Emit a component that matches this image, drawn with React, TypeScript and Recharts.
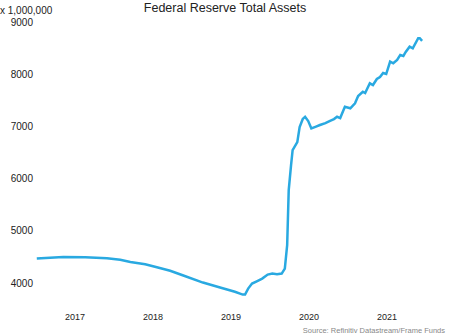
import React from 'react';
import { LineChart, Line, XAxis, YAxis } from 'recharts';

// decimal year of each reading
const years = [
  2017.01, 2017.18, 2017.35, 2017.63, 2017.91, 2018.08, 2018.21, 2018.4, 2018.55, 2018.72,
  2018.88, 2019.14, 2019.36, 2019.55, 2019.65, 2019.68, 2019.72, 2019.77, 2019.83, 2019.9,
  2019.97, 2020.03, 2020.09, 2020.15, 2020.19, 2020.22, 2020.24, 2020.27, 2020.29, 2020.35,
  2020.38, 2020.42, 2020.45, 2020.49, 2020.53, 2020.59, 2020.64, 2020.71, 2020.77, 2020.82,
  2020.86, 2020.9, 2020.96, 2021.03, 2021.09, 2021.13, 2021.19, 2021.22, 2021.28, 2021.32,
  2021.37, 2021.41, 2021.45, 2021.49, 2021.54, 2021.58, 2021.63, 2021.67, 2021.71, 2021.74,
  2021.79, 2021.83, 2021.9, 2021.92, 2021.95,
];

// total assets, x 1,000,000
const assets = [
  4469, 4485, 4500, 4494, 4475, 4446, 4404, 4360, 4302, 4235,
  4148, 4008, 3912, 3831, 3777, 3777, 3892, 3988, 4033, 4085,
  4162, 4181, 4167, 4181, 4277, 4725, 5783, 6263, 6552, 6705,
  6994, 7150, 7192, 7110, 6969, 7004, 7033, 7071, 7115, 7148,
  7192, 7167, 7385, 7354, 7450, 7590, 7673, 7648, 7834, 7802,
  7917, 7956, 8033, 8013, 8250, 8219, 8283, 8379, 8360, 8436,
  8538, 8507, 8700, 8700, 8648,
];

const yTicks = [4000, 5000, 6000, 7000, 8000, 9000];
const xTicks = [2017.5, 2018.5, 2019.5, 2020.5, 2021.5];

const data = years.map((t, i) => ({ t, v: assets[i] }));

const font = 'Liberation Sans, Arial, sans-serif';

export default function App() {
  return (
    <div style={{ position: 'absolute', left: 0, top: 0, width: 450, height: 336, background: '#fff', fontFamily: font }}>
      <div style={{ position: 'absolute', left: 0, width: 450, top: 0, textAlign: 'center', fontSize: 12.5, color: '#222', lineHeight: '16px' }}>
        Federal Reserve Total Assets
      </div>
      <div style={{ position: 'absolute', left: 0, top: 5, fontSize: 10, color: '#222', lineHeight: '12px' }}>
        x 1,000,000
      </div>
      <LineChart width={450} height={336} data={data} margin={{ top: 20, right: 24, bottom: 10, left: 0 }}>
        <XAxis
          dataKey="t"
          type="number"
          domain={[2017, 2022]}
          ticks={xTicks}
          tickFormatter={(v: number) => String(Math.floor(v))}
          tickLine={false}
          axisLine={false}
          tickSize={0}
          tickMargin={18}
          height={30}
          tick={{ fill: '#222', fontSize: 9, fontFamily: font }}
        />
        <YAxis
          type="number"
          domain={[3750, 9050]}
          ticks={yTicks}
          tickLine={false}
          axisLine={false}
          tickSize={0}
          tickMargin={3}
          width={36}
          tick={{ fill: '#222', fontSize: 10, fontFamily: font }}
        />
        <Line
          type="linear"
          dataKey="v"
          stroke="#29a9e1"
          strokeWidth={2.5}
          dot={false}
          isAnimationActive={false}
        />
      </LineChart>
      <div style={{ position: 'absolute', right: 5, top: 326, fontSize: 7.5, color: '#888', lineHeight: '10px' }}>
        Source: Refinitiv Datastream/Frame Funds
      </div>
    </div>
  );
}
